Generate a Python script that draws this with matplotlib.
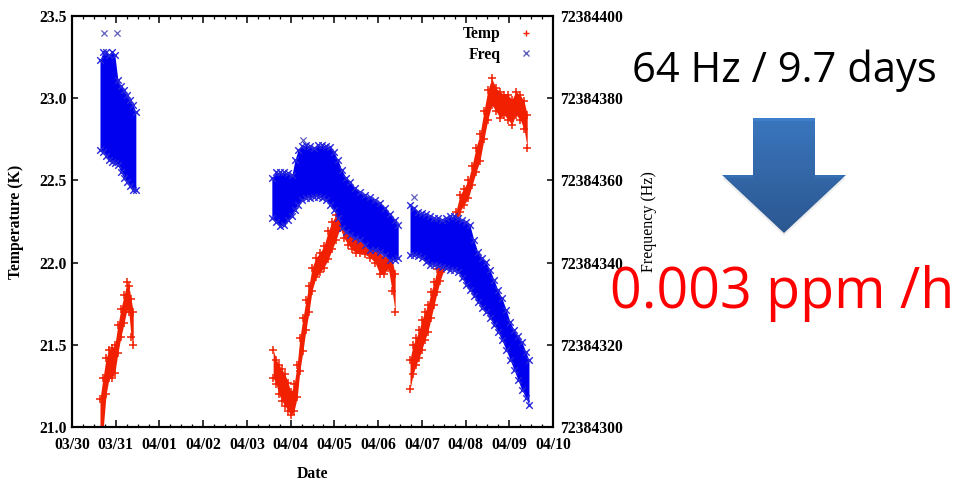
import numpy as np
import matplotlib
matplotlib.use('Agg')
import matplotlib.pyplot as plt
from matplotlib.lines import Line2D
from matplotlib.patches import Polygon
from matplotlib.colors import LinearSegmentedColormap
from matplotlib.ticker import MultipleLocator, FixedLocator, ScalarFormatter, FormatStrFormatter

# ── DATA ──────────────────────────────────────────────────────────
# x: days since 03/30 00:00, temperatures in K, frequency as offset above F0
DATE_LABELS = ['03/30', '03/31', '04/01', '04/02', '04/03', '04/04',
               '04/05', '04/06', '04/07', '04/08', '04/09', '04/10']
F0 = 72384300

# Temperature: three runs, lower / upper edge of the point cloud
TEMP_DAYS_1 = [0.64, 0.71, 0.78, 0.85, 0.92, 0.98, 1.05, 1.12, 1.19, 1.26, 1.30, 1.35, 1.40]
TEMP_LO_1 = [20.98, 20.98, 21.20, 21.30, 21.30, 21.33, 21.45, 21.55, 21.63, 21.72, 21.70, 21.55, 21.50]
TEMP_HI_1 = [21.17, 21.30, 21.42, 21.47, 21.48, 21.50, 21.62, 21.72, 21.80, 21.88, 21.86, 21.78, 21.70]

TEMP_DAYS_2 = [4.60, 4.67, 4.73, 4.80, 4.87, 4.94, 5.01, 5.08, 5.15, 5.21, 5.28, 5.35,
               5.42, 5.49, 5.58, 5.67, 5.76, 5.86, 5.95, 6.04, 6.13, 6.22, 6.31, 6.40,
               6.49, 6.59, 6.70, 6.82, 6.93, 7.04, 7.14, 7.23, 7.32, 7.39]
TEMP_LO_2 = [21.30, 21.26, 21.20, 21.16, 21.13, 21.10, 21.07, 21.10, 21.18, 21.34, 21.46, 21.59,
             21.70, 21.83, 21.91, 21.94, 21.97, 22.02, 22.08, 22.14, 22.21, 22.15, 22.11, 22.08,
             22.06, 22.06, 22.05, 22.03, 22.00, 21.93, 21.93, 21.97, 21.83, 21.70]
TEMP_HI_2 = [21.47, 21.41, 21.38, 21.35, 21.32, 21.27, 21.21, 21.26, 21.38, 21.54, 21.66, 21.77,
             21.86, 21.97, 22.03, 22.06, 22.10, 22.19, 22.25, 22.29, 22.32, 22.25, 22.20, 22.17,
             22.15, 22.14, 22.13, 22.11, 22.10, 22.06, 22.03, 22.04, 22.02, 21.93]

TEMP_DAYS_3 = [7.73, 7.80, 7.87, 7.94, 8.00, 8.07, 8.14, 8.21, 8.28, 8.35, 8.42, 8.51,
               8.60, 8.69, 8.78, 8.87, 8.96, 9.06, 9.15, 9.24, 9.33, 9.42, 9.51, 9.60,
               9.70, 9.79, 9.88, 9.97, 10.06, 10.15, 10.25, 10.34, 10.41]
TEMP_LO_3 = [21.23, 21.32, 21.38, 21.42, 21.47, 21.53, 21.58, 21.66, 21.74, 21.82, 21.89, 21.96,
             22.03, 22.11, 22.20, 22.31, 22.35, 22.39, 22.47, 22.55, 22.62, 22.75, 22.87, 22.96,
             22.92, 22.88, 22.90, 22.87, 22.84, 22.90, 22.87, 22.81, 22.70]
TEMP_HI_3 = [21.41, 21.50, 21.54, 21.59, 21.65, 21.70, 21.74, 21.82, 21.88, 21.96, 22.03, 22.11,
             22.19, 22.25, 22.31, 22.41, 22.45, 22.50, 22.59, 22.70, 22.78, 22.92, 23.05, 23.12,
             23.06, 23.04, 23.02, 23.02, 22.99, 23.04, 23.02, 22.98, 22.90]

# Frequency (Hz above F0): lower / upper edge of the point cloud
FREQ_DAYS_1 = [0.64, 0.71, 0.78, 0.85, 0.92, 0.98, 1.05, 1.12, 1.19, 1.26, 1.33, 1.40, 1.46]
FREQ_LO_1 = [67.4, 66.9, 65.9, 65.0, 64.5, 64.2, 63.7, 62.0, 60.6, 59.6, 58.6, 57.7, 57.7]
FREQ_HI_1 = [89.3, 91.2, 91.2, 90.5, 91.2, 90.5, 84.4, 83.0, 82.0, 80.8, 79.6, 78.3, 76.6]

FREQ_DAYS_2 = [4.57, 4.67, 4.76, 4.85, 4.94, 5.03, 5.10, 5.17, 5.26, 5.35, 5.44, 5.53,
               5.63, 5.72, 5.81, 5.90, 5.99, 6.08, 6.17, 6.27, 6.36, 6.47, 6.59, 6.70,
               6.82, 6.93, 7.04, 7.16, 7.27, 7.39, 7.46]
FREQ_LO_2 = [50.9, 49.9, 48.9, 49.1, 50.4, 51.3, 52.8, 54.0, 55.2, 55.7, 55.7, 56.0,
             56.0, 55.7, 55.2, 54.0, 52.8, 50.9, 48.4, 47.4, 46.7, 46.0, 45.5, 44.3,
             43.1, 43.1, 42.6, 41.8, 40.6, 40.6, 41.1]
FREQ_HI_2 = [60.6, 62.0, 62.0, 62.0, 61.8, 61.3, 65.0, 67.4, 68.4, 68.6, 68.4, 67.9,
             68.6, 68.6, 68.4, 68.1, 66.9, 65.0, 62.5, 60.6, 59.6, 58.1, 57.2, 56.4,
             56.0, 55.2, 54.5, 53.3, 51.8, 50.4, 49.1]

FREQ_DAYS_3 = [7.73, 7.82, 7.91, 8.00, 8.10, 8.19, 8.28, 8.37, 8.46, 8.55, 8.64, 8.74,
               8.83, 8.92, 9.01, 9.10, 9.19, 9.28, 9.38, 9.47, 9.56, 9.65, 9.74, 9.83,
               9.93, 10.02, 10.11, 10.20, 10.29, 10.38, 10.45]
FREQ_LO_3 = [41.8, 41.8, 41.6, 41.1, 40.1, 39.4, 39.4, 39.2, 38.9, 38.7, 38.2, 38.2,
             37.7, 36.3, 34.5, 33.3, 31.9, 30.4, 29.0, 28.0, 26.5, 24.8, 23.1, 21.2,
             18.7, 16.3, 13.9, 11.4, 9.0, 7.1, 5.4]
FREQ_HI_3 = [54.0, 53.3, 52.3, 52.1, 51.8, 51.3, 50.9, 50.9, 50.4, 50.9, 51.3, 51.3,
             50.9, 50.4, 49.9, 49.1, 45.5, 42.6, 41.1, 40.1, 38.2, 35.8, 33.3, 31.4,
             28.5, 25.5, 23.6, 22.1, 20.7, 18.2, 16.3]

# a few stray frequency points
FREQ_OUT_DAYS = [0.74, 1.04, 5.28, 7.82]
FREQ_OUT_VALS = [95.9, 95.9, 69.8, 55.9]

TEMP_RUNS = [(TEMP_DAYS_1, TEMP_LO_1, TEMP_HI_1),
             (TEMP_DAYS_2, TEMP_LO_2, TEMP_HI_2),
             (TEMP_DAYS_3, TEMP_LO_3, TEMP_HI_3)]
FREQ_RUNS = [(FREQ_DAYS_1, FREQ_LO_1, FREQ_HI_1),
             (FREQ_DAYS_2, FREQ_LO_2, FREQ_HI_2),
             (FREQ_DAYS_3, FREQ_LO_3, FREQ_HI_3)]

RED = '#f02000'
BLUE = '#0000ee'
BLUE_EDGE = '#2626dc'
BLUE_LIGHT = '#6060c0'
SERIF = 'Liberation Serif'

plt.rcParams['font.family'] = SERIF
plt.rcParams['font.weight'] = 'bold'
plt.rcParams['xtick.labelsize'] = 11.3
plt.rcParams['ytick.labelsize'] = 11.3

# ── FIGURE ────────────────────────────────────────────────────────
fig = plt.figure(figsize=(9.59, 4.82), dpi=100)
fig.patch.set_facecolor('white')
ax = fig.add_axes([72 / 959, 55 / 482, 481 / 959, 411 / 482])
ax2 = ax.twinx()

for days, lo, hi in TEMP_RUNS:
    ax.fill_between(days, lo, hi, color=RED, lw=0, zorder=2)
    ax.scatter(days + days, lo + hi, marker='+', s=34, color=RED, linewidths=1.1, zorder=2)

for days, lo, hi in FREQ_RUNS:
    lo_f = [F0 + v for v in lo]
    hi_f = [F0 + v for v in hi]
    ax2.fill_between(days, lo_f, hi_f, color=BLUE, lw=0, zorder=2)
    ax2.scatter(days + days, lo_f + hi_f, marker='x', s=22, color=BLUE_EDGE,
                linewidths=1.0, zorder=2)
ax2.scatter(FREQ_OUT_DAYS, [F0 + v for v in FREQ_OUT_VALS], marker='x', s=20,
            color=BLUE_LIGHT, linewidths=0.9, zorder=2)

# ── AXES ──────────────────────────────────────────────────────────
ax.set_xlim(0, 11)
ax.set_ylim(21.0, 23.5)
ax2.set_ylim(F0, F0 + 100)

ax.xaxis.set_major_locator(FixedLocator(range(len(DATE_LABELS))))
ax.set_xticklabels(DATE_LABELS)
ax.xaxis.set_minor_locator(MultipleLocator(0.25))
ax.yaxis.set_major_locator(MultipleLocator(0.5))
ax.yaxis.set_major_formatter(FormatStrFormatter('%.1f'))
ax2.yaxis.set_major_locator(MultipleLocator(20))
fmt = ScalarFormatter(useOffset=False)
fmt.set_scientific(False)
ax2.yaxis.set_major_formatter(fmt)

ax.tick_params(axis='x', which='major', direction='in', length=5, width=1.1,
               top=True, pad=7)
ax.tick_params(axis='x', which='minor', direction='in', length=2.5, width=0.9, top=True)
ax.tick_params(axis='y', direction='in', length=4, width=1.1, right=False, pad=4)
ax2.tick_params(axis='y', direction='in', length=4, width=1.1, pad=5)

for a in (ax, ax2):
    for sp in a.spines.values():
        sp.set_linewidth(1.5)
        sp.set_color('black')

ax.set_xlabel('Date', fontweight='bold', fontsize=11.3)
ax.xaxis.set_label_coords(0.5, -0.095)
ax.set_ylabel('Temperature (K)', fontweight='bold', fontsize=11.3)
ax.yaxis.set_label_coords(-0.10, 0.5)
ax2.set_ylabel('Frequency (Hz)', fontweight='normal', fontsize=11.5)
ax2.yaxis.set_label_coords(1.183, 0.5)

# legend, gnuplot style: text first, marker after
handles = [Line2D([], [], ls='none', marker='+', color=RED, ms=5, mew=1.0, label='Temp'),
           Line2D([], [], ls='none', marker='x', color=BLUE_LIGHT, ms=4.5, mew=1.0, label='Freq')]
ax2.legend(handles=handles, loc='upper right', bbox_to_anchor=(0.9595, 0.975),
           frameon=False, markerfirst=False, handlelength=1.0, handletextpad=1.1,
           borderpad=0, borderaxespad=0, labelspacing=0.3,
           prop={'family': SERIF, 'weight': 'bold', 'size': 11.3})

# ── SIDE NOTES ────────────────────────────────────────────────────
over = fig.add_axes([0, 0, 1, 1], zorder=5)
over.axis('off')
arrow_pts = [(753, 118), (815, 118), (815, 175), (846, 175), (784, 233), (722, 175), (753, 175)]
shadow = Polygon([(x, y + 3) for x, y in arrow_pts], closed=True,
                 fc='#000000', alpha=0.07, lw=0)
over.add_patch(shadow)
body = Polygon(arrow_pts, closed=True, fc='none', ec='none')
over.add_patch(body)
cmap = LinearSegmentedColormap.from_list('arrow', ['#3f7fcc', '#2f5e9c'])
im = over.imshow(np.linspace(0, 1, 200).reshape(-1, 1), cmap=cmap, aspect='auto',
                 extent=(722, 846, 233, 118), origin='upper', interpolation='bilinear')
im.set_clip_path(body)
over.set_xlim(0, 959)
over.set_ylim(482, 0)

over.text(784, 82, '64 Hz / 9.7 days', ha='center', va='baseline',
          family='Open Sans', fontweight='normal', fontsize=30, color='black')
over.text(782, 308, '0.003 ppm /h', ha='center', va='baseline',
          family='Open Sans', fontweight='normal', fontsize=40, color='#ff0000')

fig.savefig('out.png', dpi=100, facecolor='white')
plt.close(fig)
